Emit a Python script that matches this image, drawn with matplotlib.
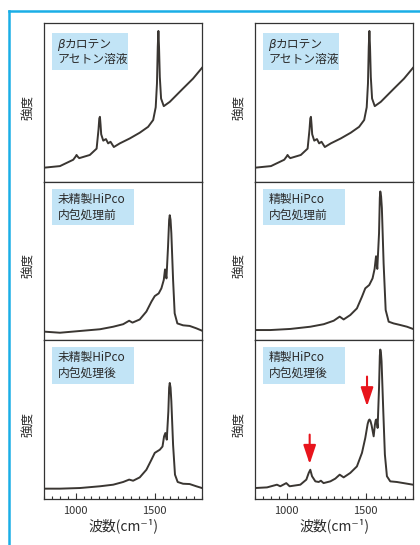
import matplotlib
matplotlib.use('Agg')
from matplotlib import pyplot as plt
from matplotlib.lines import Line2D
from matplotlib.patches import Rectangle
from matplotlib.ticker import MultipleLocator, FixedLocator

plt.rcParams['font.family'] = ['Noto Sans CJK JP', 'DejaVu Sans']

# beta-carotene in acetone (same spectrum in both columns)
wn_bc = [800, 901, 985, 1000, 1006, 1013, 1023, 1090, 1133, 1145, 1150, 1154, 1158, 1162, 1175,
         1192, 1206, 1221, 1242, 1280, 1343, 1406, 1459, 1491, 1507, 1515, 1520, 1524, 1528,
         1533, 1541, 1558, 1596, 1638, 1680, 1743, 1800]
int_bc = [0.09, 0.10, 0.14, 0.16, 0.17, 0.16, 0.15, 0.17, 0.21, 0.33, 0.40, 0.41, 0.36, 0.30,
          0.26, 0.27, 0.243, 0.253, 0.22, 0.243, 0.274, 0.31, 0.347, 0.39, 0.47, 0.62, 0.85,
          0.95, 0.85, 0.66, 0.525, 0.477, 0.504, 0.546, 0.588, 0.65, 0.718]

# raw HiPco, before encapsulation
wn_raw_pre = [800, 901, 1027, 1154, 1238, 1301, 1339, 1360, 1406, 1448, 1480, 1501, 1526, 1543,
              1558, 1566, 1575, 1585, 1592, 1596, 1601, 1606, 1617, 1627, 1644, 1680, 1722,
              1764, 1800]
int_raw_pre = [0.053, 0.046, 0.057, 0.068, 0.084, 0.10, 0.122, 0.11, 0.13, 0.18, 0.243, 0.278,
               0.295, 0.327, 0.38, 0.447, 0.39, 0.59, 0.76, 0.79, 0.76, 0.675, 0.38, 0.169,
               0.105, 0.093, 0.089, 0.074, 0.059]

# purified HiPco, before encapsulation
wn_pur_pre = [800, 897, 1024, 1150, 1235, 1298, 1336, 1361, 1403, 1445, 1477, 1498, 1523, 1544,
              1557, 1566, 1574, 1585, 1590, 1593, 1598, 1603, 1614, 1627, 1646, 1677, 1719,
              1762, 1800]
int_pur_pre = [0.063, 0.063, 0.07, 0.084, 0.10, 0.122, 0.148, 0.13, 0.158, 0.20, 0.274, 0.327,
               0.348, 0.39, 0.45, 0.53, 0.45, 0.675, 0.90, 0.94, 0.91, 0.835, 0.485, 0.19,
               0.116, 0.105, 0.095, 0.084, 0.07]

# raw HiPco, after encapsulation
wn_raw_post = [800, 901, 1027, 1154, 1238, 1301, 1339, 1364, 1406, 1448, 1480, 1501, 1533, 1550,
               1560, 1568, 1577, 1587, 1592, 1596, 1601, 1606, 1617, 1629, 1646, 1680, 1722,
               1764, 1800]
int_raw_post = [0.065, 0.065, 0.069, 0.08, 0.09, 0.107, 0.122, 0.115, 0.136, 0.184, 0.247, 0.29,
                0.31, 0.33, 0.394, 0.415, 0.373, 0.55, 0.70, 0.73, 0.70, 0.614, 0.34, 0.153,
                0.107, 0.096, 0.094, 0.08, 0.069]

# purified HiPco, after encapsulation
wn_pur_post = [800, 876, 939, 960, 998, 1019, 1087, 1125, 1140, 1150, 1161, 1182, 1203, 1217,
               1234, 1277, 1308, 1336, 1361, 1403, 1445, 1477, 1498, 1513, 1520, 1525, 1531,
               1538, 1551, 1559, 1564, 1568, 1572, 1576, 1585, 1590, 1593, 1597, 1601, 1612,
               1622, 1635, 1656, 1698, 1740, 1800]
int_pur_post = [0.069, 0.073, 0.09, 0.08, 0.10, 0.08, 0.09, 0.122, 0.164, 0.184, 0.143, 0.111,
                0.107, 0.115, 0.10, 0.111, 0.128, 0.153, 0.136, 0.164, 0.205, 0.29, 0.384,
                0.472, 0.495, 0.50, 0.49, 0.463, 0.394, 0.468, 0.495, 0.50, 0.485, 0.447, 0.70,
                0.90, 0.94, 0.92, 0.866, 0.55, 0.28, 0.143, 0.111, 0.107, 0.10, 0.09]

labels_left = [['β', 'カロテン', 'アセトン溶液'], ['', '未精製HiPco', '内包処理前'], ['', '未精製HiPco', '内包処理後']]
labels_right = [['β', 'カロテン', 'アセトン溶液'], ['', '精製HiPco', '内包処理前'], ['', '精製HiPco', '内包処理後']]

arrow_x = [1146, 1509]
arrow_top = [0.405, 0.77]
arrow_tip = [0.22, 0.583]

data_left = [(wn_bc, int_bc), (wn_raw_pre, int_raw_pre), (wn_raw_post, int_raw_post)]
data_right = [(wn_bc, int_bc), (wn_pur_pre, int_pur_pre), (wn_pur_post, int_pur_post)]

W, H = 420, 545
fig = plt.figure(figsize=(W / 100, H / 100), dpi=100)

line_col = '#3a3632'
box_col = '#c2e4f6'
txt_col = '#2a2a2a'
frame_col = '#1aaee6'

rows = [(23, 182), (182, 340), (340, 499)]
cols = [(44, 202), (255, 413)]
box_w = [[0.48, 0.52, 0.52], [0.48, 0.52, 0.52]]

for c, (x0, x1) in enumerate(cols):
    data = data_left if c == 0 else data_right
    labels = labels_left if c == 0 else labels_right
    for r, (y0, y1) in enumerate(rows):
        ax = fig.add_axes([x0 / W, 1 - y1 / H, (x1 - x0) / W, (y1 - y0) / H])
        wn, inten = data[r]
        ax.plot(wn, inten, color=line_col, lw=1.4, solid_joinstyle='round')
        ax.set_xlim(800, 1800)
        ax.set_ylim(0, 1)
        for s in ax.spines.values():
            s.set_color('#333333')
            s.set_linewidth(0.9)
        ax.set_yticks([])
        if r == 2:
            ax.xaxis.set_major_locator(FixedLocator([1000, 1500]))
            ax.xaxis.set_minor_locator(MultipleLocator(50))
            ax.tick_params(axis='x', which='major', direction='in', length=4.5, width=0.8,
                           colors='#333333', labelsize=8, pad=5)
            ax.tick_params(axis='x', which='minor', direction='in', length=2.5, width=0.8,
                           colors='#333333')
            ax.set_xlabel('波数(cm⁻¹)', fontsize=10, color=txt_col, labelpad=2)
        else:
            ax.set_xticks([])
        ax.set_ylabel('強度', fontsize=9, color=txt_col)
        ax.yaxis.set_label_coords(-0.055, 0.47)

        # label box
        top = 0.935 if r == 0 else 0.955
        ax.add_patch(Rectangle((0.05, top - 0.23), box_w[c][r], 0.23, transform=ax.transAxes,
                               facecolor=box_col, edgecolor='none', zorder=3))
        beta, first, second = labels[r]
        if beta:
            tb = ax.text(0.085, top - 0.068, beta, transform=ax.transAxes, fontsize=8.5,
                         family='DejaVu Sans', style='italic', color=txt_col,
                         va='center', ha='left', zorder=4)
            ax.annotate(first, xy=(1.0, 0.5), xycoords=tb, fontsize=8.5, color=txt_col,
                        va='center', ha='left', zorder=4)
        else:
            ax.text(0.085, top - 0.068, first, transform=ax.transAxes, fontsize=8.5,
                    color=txt_col, va='center', ha='left', zorder=4)
        ax.text(0.085, top - 0.165, second, transform=ax.transAxes, fontsize=8.5,
                color=txt_col, va='center', ha='left', zorder=4)

        if c == 1 and r == 2:
            for xa, yt, yb in zip(arrow_x, arrow_top, arrow_tip):
                ax.annotate('', xy=(xa, yb), xytext=(xa, yt),
                            arrowprops=dict(arrowstyle='-|>,head_width=0.4,head_length=1.2',
                                            color='#e8141c', lw=1.5, mutation_scale=9.5,
                                            shrinkA=0, shrinkB=0))

# blue frame
fig.add_artist(Line2D([9 / W, 9 / W], [0, 1 - 11 / H], color=frame_col, lw=1.8))
fig.add_artist(Line2D([9 / W, 1], [1 - 11 / H, 1 - 11 / H], color=frame_col, lw=1.8))

fig.savefig('out.png', dpi=100)
